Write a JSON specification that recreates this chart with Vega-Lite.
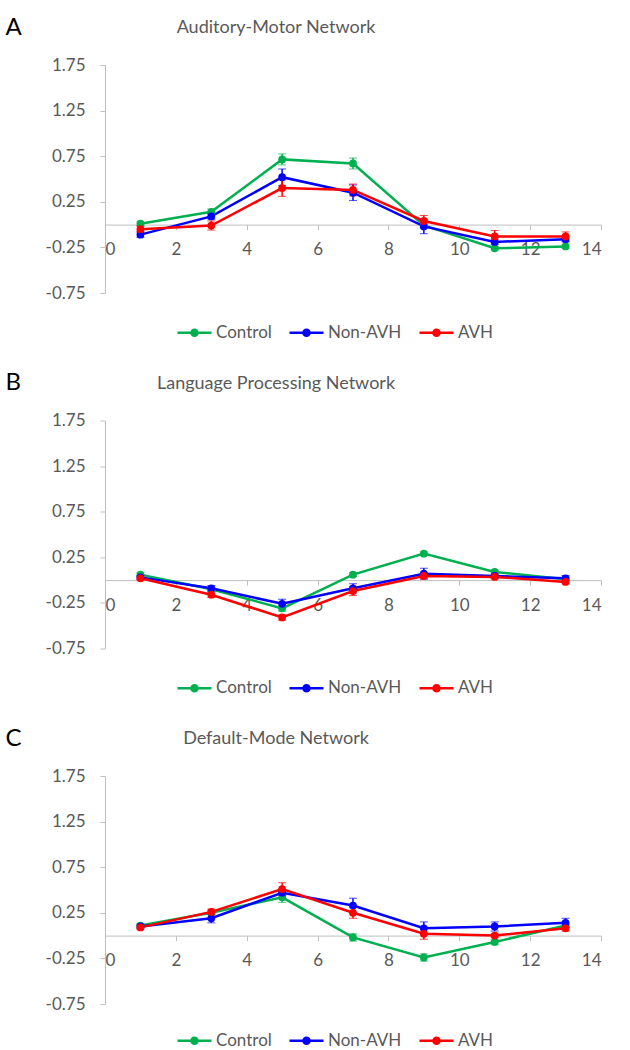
{
  "$schema": "https://vega.github.io/schema/vega-lite/v6.json",
  "padding": {"left": 5, "top": 15, "right": 0, "bottom": 0},
  "background": "white",
  "bounds": "flush",
  "spacing": 127.5,
  "config": {
    "font": "Lato",
    "view": {"stroke": null},
    "axis": {"grid": false, "domainColor": "#BFBFBF", "tickColor": "#BFBFBF", "labelColor": "#595959", "labelFont": "Lato", "domainWidth": 1, "tickWidth": 1},
    "axisX": {"offset": -68.4, "labelFontSize": 17, "tickSize": 5, "labelPadding": 12},
    "axisY": {"labelFontSize": 17, "tickSize": 5, "labelPadding": 15, "titleAngle": 0, "titleX": -100, "titleY": -38, "titleAlign": "left", "titleBaseline": "middle", "titleFontSize": 24, "titleFontWeight": "normal", "titleColor": "#000000", "titleFont": "Lato"},
    "title": {"fontSize": 18, "fontWeight": "normal", "color": "#595959", "font": "Lato", "frame": "group", "dx": -77, "offset": -22}
  },
  "datasets": {
    "d": [
      {"p": "A", "g": "Control", "x": 1, "v": 0.01, "e": 0.02},
      {"p": "A", "g": "Control", "x": 3, "v": 0.14, "e": 0.03},
      {"p": "A", "g": "Control", "x": 5, "v": 0.715, "e": 0.06},
      {"p": "A", "g": "Control", "x": 7, "v": 0.67, "e": 0.06},
      {"p": "A", "g": "Control", "x": 9, "v": -0.01, "e": 0.03},
      {"p": "A", "g": "Control", "x": 11, "v": -0.26, "e": 0.02},
      {"p": "A", "g": "Control", "x": 13, "v": -0.24, "e": 0.02},
      {"p": "A", "g": "Non-AVH", "x": 1, "v": -0.11, "e": 0.03},
      {"p": "A", "g": "Non-AVH", "x": 3, "v": 0.09, "e": 0.03},
      {"p": "A", "g": "Non-AVH", "x": 5, "v": 0.52, "e": 0.09},
      {"p": "A", "g": "Non-AVH", "x": 7, "v": 0.35, "e": 0.085},
      {"p": "A", "g": "Non-AVH", "x": 9, "v": -0.02, "e": 0.08},
      {"p": "A", "g": "Non-AVH", "x": 11, "v": -0.19, "e": 0.03},
      {"p": "A", "g": "Non-AVH", "x": 13, "v": -0.16, "e": 0.03},
      {"p": "A", "g": "AVH", "x": 1, "v": -0.05, "e": 0.03},
      {"p": "A", "g": "AVH", "x": 3, "v": -0.01, "e": 0.05},
      {"p": "A", "g": "AVH", "x": 5, "v": 0.40, "e": 0.09},
      {"p": "A", "g": "AVH", "x": 7, "v": 0.38, "e": 0.065},
      {"p": "A", "g": "AVH", "x": 9, "v": 0.04, "e": 0.06},
      {"p": "A", "g": "AVH", "x": 11, "v": -0.13, "e": 0.065},
      {"p": "A", "g": "AVH", "x": 13, "v": -0.13, "e": 0.05},
      {"p": "B", "g": "Control", "x": 1, "v": 0.06, "e": 0.02},
      {"p": "B", "g": "Control", "x": 3, "v": -0.10, "e": 0.02},
      {"p": "B", "g": "Control", "x": 5, "v": -0.31, "e": 0.03},
      {"p": "B", "g": "Control", "x": 7, "v": 0.06, "e": 0.02},
      {"p": "B", "g": "Control", "x": 9, "v": 0.29, "e": 0.02},
      {"p": "B", "g": "Control", "x": 11, "v": 0.09, "e": 0.02},
      {"p": "B", "g": "Control", "x": 13, "v": 0.01, "e": 0.02},
      {"p": "B", "g": "Non-AVH", "x": 1, "v": 0.03, "e": 0.02},
      {"p": "B", "g": "Non-AVH", "x": 3, "v": -0.09, "e": 0.03},
      {"p": "B", "g": "Non-AVH", "x": 5, "v": -0.26, "e": 0.05},
      {"p": "B", "g": "Non-AVH", "x": 7, "v": -0.09, "e": 0.05},
      {"p": "B", "g": "Non-AVH", "x": 9, "v": 0.07, "e": 0.06},
      {"p": "B", "g": "Non-AVH", "x": 11, "v": 0.045, "e": 0.02},
      {"p": "B", "g": "Non-AVH", "x": 13, "v": 0.02, "e": 0.03},
      {"p": "B", "g": "AVH", "x": 1, "v": 0.02, "e": 0.02},
      {"p": "B", "g": "AVH", "x": 3, "v": -0.16, "e": 0.03},
      {"p": "B", "g": "AVH", "x": 5, "v": -0.41, "e": 0.03},
      {"p": "B", "g": "AVH", "x": 7, "v": -0.12, "e": 0.05},
      {"p": "B", "g": "AVH", "x": 9, "v": 0.045, "e": 0.03},
      {"p": "B", "g": "AVH", "x": 11, "v": 0.035, "e": 0.02},
      {"p": "B", "g": "AVH", "x": 13, "v": -0.02, "e": 0.02},
      {"p": "C", "g": "Control", "x": 1, "v": 0.11, "e": 0.02},
      {"p": "C", "g": "Control", "x": 3, "v": 0.25, "e": 0.02},
      {"p": "C", "g": "Control", "x": 5, "v": 0.42, "e": 0.055},
      {"p": "C", "g": "Control", "x": 7, "v": -0.02, "e": 0.04},
      {"p": "C", "g": "Control", "x": 9, "v": -0.24, "e": 0.04},
      {"p": "C", "g": "Control", "x": 11, "v": -0.07, "e": 0.03},
      {"p": "C", "g": "Control", "x": 13, "v": 0.11, "e": 0.02},
      {"p": "C", "g": "Non-AVH", "x": 1, "v": 0.10, "e": 0.02},
      {"p": "C", "g": "Non-AVH", "x": 3, "v": 0.19, "e": 0.05},
      {"p": "C", "g": "Non-AVH", "x": 5, "v": 0.47, "e": 0.03},
      {"p": "C", "g": "Non-AVH", "x": 7, "v": 0.33, "e": 0.08},
      {"p": "C", "g": "Non-AVH", "x": 9, "v": 0.08, "e": 0.07},
      {"p": "C", "g": "Non-AVH", "x": 11, "v": 0.10, "e": 0.05},
      {"p": "C", "g": "Non-AVH", "x": 13, "v": 0.14, "e": 0.05},
      {"p": "C", "g": "AVH", "x": 1, "v": 0.09, "e": 0.02},
      {"p": "C", "g": "AVH", "x": 3, "v": 0.26, "e": 0.03},
      {"p": "C", "g": "AVH", "x": 5, "v": 0.51, "e": 0.07},
      {"p": "C", "g": "AVH", "x": 7, "v": 0.25, "e": 0.06},
      {"p": "C", "g": "AVH", "x": 9, "v": 0.02, "e": 0.06},
      {"p": "C", "g": "AVH", "x": 11, "v": 0.0, "e": 0.02},
      {"p": "C", "g": "AVH", "x": 13, "v": 0.08, "e": 0.03}
    ]
  },
  "resolve": {"scale": {"color": "independent"}, "legend": {"color": "independent"}},
  "vconcat": [
    {
      "width": 496, "height": 228,
      "title": {"text": "Auditory-Motor Network"},
      "data": {"name": "d"},
      "transform": [{"filter": "datum.p === 'A'"}],
      "encoding": {
        "x": {"field": "x", "type": "quantitative", "scale": {"domain": [0, 14], "nice": false}, "axis": {"title": null, "values": [0, 2, 4, 6, 8, 10, 12, 14]}},
        "y": {"field": "v", "type": "quantitative", "scale": {"domain": [-0.75, 1.75], "nice": false, "zero": false}, "axis": {"title": "A", "values": [-0.75, -0.25, 0.25, 0.75, 1.25, 1.75], "labelExpr": "datum.value < 0 ? '-' + format(-datum.value, '.2f') : format(datum.value, '.2f')"}},
        "color": {"field": "g", "type": "nominal", "scale": {"domain": ["Control", "Non-AVH", "AVH"], "range": ["#00B050", "#0000FF", "#FF0000"]},
          "legend": {"title": null, "orient": "none", "direction": "horizontal", "legendX": 71, "legendY": 249, "padding": 0, "symbolType": "M-1,0L1,0M-0.18,0A0.18,0.18 0 1 0 0.18,0A0.18,0.18 0 1 0 -0.18,0Z", "symbolSize": 1156, "symbolStrokeWidth": 2.5, "symbolOpacity": 1, "labelFontSize": 17, "labelColor": "#595959", "labelFont": "Lato", "labelOffset": 3, "columnPadding": 12,
            "encode": {"symbols": {"update": {"fill": {"signal": "datum.value === 'Control' ? '#00B050' : datum.value === 'Non-AVH' ? '#0000FF' : '#FF0000'"}, "stroke": {"signal": "datum.value === 'Control' ? '#00B050' : datum.value === 'Non-AVH' ? '#0000FF' : '#FF0000'"}}}}}}
      },
      "layer": [
        {"mark": {"type": "line", "strokeWidth": 2.5}},
        {"mark": {"type": "errorbar", "ticks": {"size": 8}, "rule": {"strokeWidth": 1.5}}, "encoding": {"yError": {"field": "e"}}},
        {"mark": {"type": "point", "filled": true, "size": 60, "opacity": 1}}
      ]
    },
    {
      "width": 496, "height": 228,
      "title": {"text": "Language Processing Network"},
      "data": {"name": "d"},
      "transform": [{"filter": "datum.p === 'B'"}],
      "encoding": {
        "x": {"field": "x", "type": "quantitative", "scale": {"domain": [0, 14], "nice": false}, "axis": {"title": null, "values": [0, 2, 4, 6, 8, 10, 12, 14]}},
        "y": {"field": "v", "type": "quantitative", "scale": {"domain": [-0.75, 1.75], "nice": false, "zero": false}, "axis": {"title": "B", "values": [-0.75, -0.25, 0.25, 0.75, 1.25, 1.75], "labelExpr": "datum.value < 0 ? '-' + format(-datum.value, '.2f') : format(datum.value, '.2f')"}},
        "color": {"field": "g", "type": "nominal", "scale": {"domain": ["Control", "Non-AVH", "AVH"], "range": ["#00B050", "#0000FF", "#FF0000"]},
          "legend": {"title": null, "orient": "none", "direction": "horizontal", "legendX": 71, "legendY": 249, "padding": 0, "symbolType": "M-1,0L1,0M-0.18,0A0.18,0.18 0 1 0 0.18,0A0.18,0.18 0 1 0 -0.18,0Z", "symbolSize": 1156, "symbolStrokeWidth": 2.5, "symbolOpacity": 1, "labelFontSize": 17, "labelColor": "#595959", "labelFont": "Lato", "labelOffset": 3, "columnPadding": 12,
            "encode": {"symbols": {"update": {"fill": {"signal": "datum.value === 'Control' ? '#00B050' : datum.value === 'Non-AVH' ? '#0000FF' : '#FF0000'"}, "stroke": {"signal": "datum.value === 'Control' ? '#00B050' : datum.value === 'Non-AVH' ? '#0000FF' : '#FF0000'"}}}}}}
      },
      "layer": [
        {"mark": {"type": "line", "strokeWidth": 2.5}},
        {"mark": {"type": "errorbar", "ticks": {"size": 8}, "rule": {"strokeWidth": 1.5}}, "encoding": {"yError": {"field": "e"}}},
        {"mark": {"type": "point", "filled": true, "size": 60, "opacity": 1}}
      ]
    },
    {
      "width": 496, "height": 228,
      "title": {"text": "Default-Mode Network"},
      "data": {"name": "d"},
      "transform": [{"filter": "datum.p === 'C'"}],
      "encoding": {
        "x": {"field": "x", "type": "quantitative", "scale": {"domain": [0, 14], "nice": false}, "axis": {"title": null, "values": [0, 2, 4, 6, 8, 10, 12, 14]}},
        "y": {"field": "v", "type": "quantitative", "scale": {"domain": [-0.75, 1.75], "nice": false, "zero": false}, "axis": {"title": "C", "values": [-0.75, -0.25, 0.25, 0.75, 1.25, 1.75], "labelExpr": "datum.value < 0 ? '-' + format(-datum.value, '.2f') : format(datum.value, '.2f')"}},
        "color": {"field": "g", "type": "nominal", "scale": {"domain": ["Control", "Non-AVH", "AVH"], "range": ["#00B050", "#0000FF", "#FF0000"]},
          "legend": {"title": null, "orient": "none", "direction": "horizontal", "legendX": 71, "legendY": 246, "padding": 0, "symbolType": "M-1,0L1,0M-0.18,0A0.18,0.18 0 1 0 0.18,0A0.18,0.18 0 1 0 -0.18,0Z", "symbolSize": 1156, "symbolStrokeWidth": 2.5, "symbolOpacity": 1, "labelFontSize": 17, "labelColor": "#595959", "labelFont": "Lato", "labelOffset": 3, "columnPadding": 12,
            "encode": {"symbols": {"update": {"fill": {"signal": "datum.value === 'Control' ? '#00B050' : datum.value === 'Non-AVH' ? '#0000FF' : '#FF0000'"}, "stroke": {"signal": "datum.value === 'Control' ? '#00B050' : datum.value === 'Non-AVH' ? '#0000FF' : '#FF0000'"}}}}}}
      },
      "layer": [
        {"mark": {"type": "line", "strokeWidth": 2.5}},
        {"mark": {"type": "errorbar", "ticks": {"size": 8}, "rule": {"strokeWidth": 1.5}}, "encoding": {"yError": {"field": "e"}}},
        {"mark": {"type": "point", "filled": true, "size": 60, "opacity": 1}}
      ]
    }
  ]
}
